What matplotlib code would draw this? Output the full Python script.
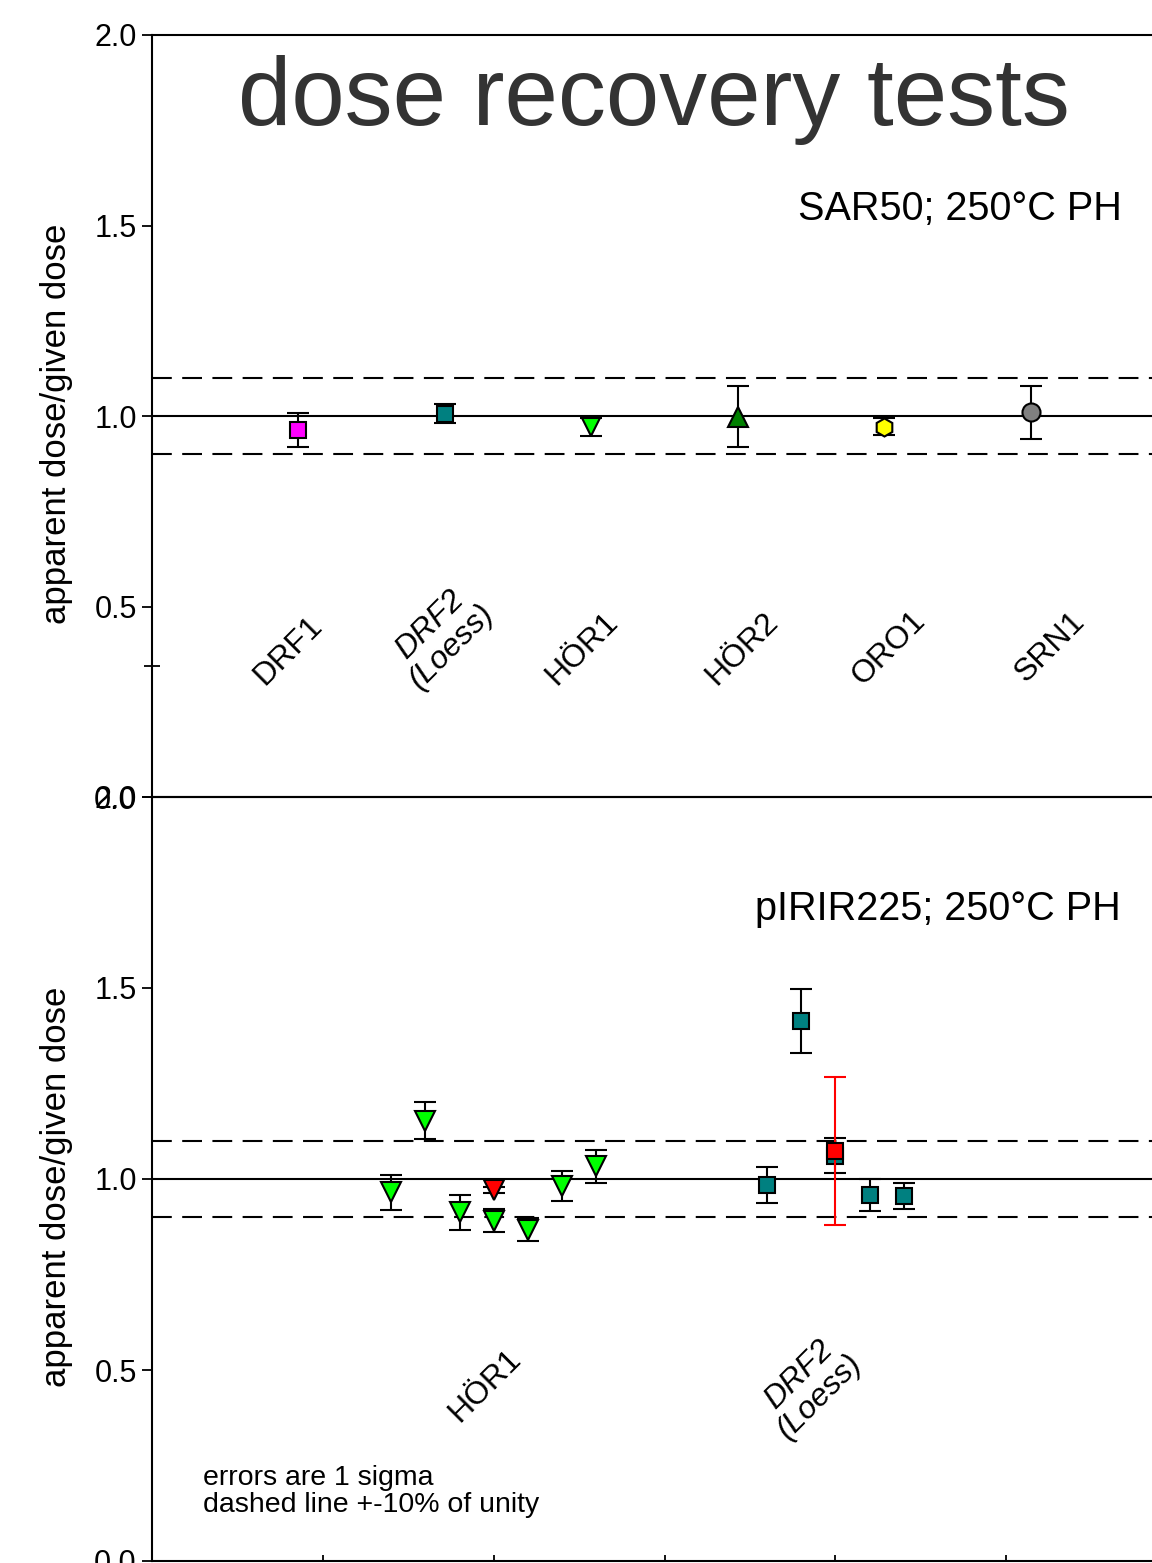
import matplotlib
matplotlib.use('Agg')
import matplotlib.pyplot as plt

plt.rcParams['font.family'] = ['Liberation Sans', 'DejaVu Sans']

# SAR50 panel
top_labels = ['DRF1', 'DRF2\n(Loess)', 'HÖR1', 'HÖR2', 'ORO1', 'SRN1']
top_x = [1, 2, 3, 4, 5, 6]
top_ratio = [0.963, 1.006, 0.971, 0.998, 0.972, 1.010]
top_err = [0.045, 0.025, 0.023, 0.080, 0.022, 0.070]

# pIRIR225 panel
hor1_x = [7, 8, 9, 10, 11, 12, 13]
hor1_ratio = [0.965, 1.153, 0.913, 0.891, 0.867, 0.981, 1.033]
hor1_err = [0.046, 0.049, 0.046, 0.030, 0.030, 0.039, 0.043]
hor1_red_x = [10]
hor1_red_ratio = [0.971]
hor1_red_err = [0.008]

drf2_x = [18, 19, 20, 21, 22]
drf2_ratio = [0.984, 1.414, 1.061, 0.958, 0.956]
drf2_err = [0.047, 0.083, 0.046, 0.042, 0.034]
drf2_red_x = [20]
drf2_red_ratio = [1.074]
drf2_red_err = [0.194]

bottom_labels = ['HÖR1', 'DRF2\n(Loess)']

# styles
top_markers = ['s', 's', 'v', '^', 'h', 'o']
top_colors = ['#ff00ff', '#008080', '#00ff00', '#008000', '#ffff00', '#808080']
top_sizes = [11.5, 11.5, 13, 14, 13, 13]
top_italic = [False, True, False, False, False, False]
top_label_pos = [(0.93, 0.383), (1.97, 0.423), (2.94, 0.388),
                 (4.03, 0.39), (5.03, 0.39), (6.13, 0.392)]
bottom_label_pos = [(9.74, 0.459), (19.24, 0.459)]
bottom_italic = [False, True]

fig = plt.figure(figsize=(11.52, 15.63), dpi=100)
left, right = 152 / 1152, 1177 / 1152
ax1 = fig.add_axes([left, 1 - 797 / 1563, right - left, (797 - 35) / 1563])
ax2 = fig.add_axes([left, 1 - 1561 / 1563, right - left, (1561 - 797) / 1563])

dash = (0, (9.5, 5))
for ax in (ax1, ax2):
    ax.set_ylim(0, 2)
    ax.set_yticks([0, 0.5, 1.0, 1.5, 2.0])
    ax.set_yticklabels(['0.0', '0.5', '1.0', '1.5', '2.0'])
    ax.tick_params(axis='y', direction='out', length=7, width=1.3, labelsize=22, pad=4)
    ax.axhline(1.0, color='black', lw=1.5, zorder=1)
    ax.axhline(1.1, color='black', lw=1.5, ls=dash, zorder=1)
    ax.axhline(0.9, color='black', lw=1.5, ls=dash, zorder=1)
    for s in ax.spines.values():
        s.set_linewidth(1.5)
    ax.set_ylabel('apparent dose/given dose', fontsize=25)
    ax.yaxis.set_label_coords(-0.077, 0.49)
    ax.patch.set_alpha(0)

# top panel
ax1.set_xlim(0, 7)
ax1.set_xticks([])
ax1.set_yticks([0.345], minor=True)
ax1.tick_params(axis='y', which='minor', direction='inout', length=12, width=1.3)
for i in range(len(top_x)):
    ax1.errorbar(top_x[i], top_ratio[i], yerr=top_err[i], fmt=top_markers[i],
                 ms=top_sizes[i], mfc=top_colors[i], mec='black', mew=1.5,
                 ecolor='black', elinewidth=1.5, capsize=8, capthick=1.5, zorder=3)
    ax1.text(top_label_pos[i][0], top_label_pos[i][1], top_labels[i], rotation=45,
             ha='center', va='center', fontsize=23, linespacing=1.0,
             style='italic' if top_italic[i] else 'normal')
ax1.text(3.43, 1.764, 'dose recovery tests', fontsize=69, color='#333333',
         ha='center', va='baseline')
ax1.text(6.626, 1.514, 'SAR50; 250°C PH', fontsize=28.5, ha='right', va='baseline')

# bottom panel
ax2.set_xlim(0, 30)
ax2.set_xticks(range(0, 31, 5))
ax2.tick_params(axis='x', direction='in', length=4, width=1.3, labelbottom=False)
ax2.errorbar(hor1_x, hor1_ratio, yerr=hor1_err, fmt='v', ms=14, mfc='#00ff00',
             mec='black', mew=1.5, ecolor='black', elinewidth=1.5, capsize=8,
             capthick=1.5, zorder=3)
ax2.errorbar(hor1_red_x, hor1_red_ratio, yerr=hor1_red_err, fmt='v', ms=14,
             mfc='#ff0000', mec='black', mew=1.5, ecolor='black', elinewidth=1.5,
             capsize=8, capthick=1.5, zorder=4)
ax2.errorbar(drf2_x, drf2_ratio, yerr=drf2_err, fmt='s', ms=11.5, mfc='#008080',
             mec='black', mew=1.5, ecolor='black', elinewidth=1.5, capsize=8,
             capthick=1.5, zorder=3)
ax2.errorbar(drf2_red_x, drf2_red_ratio, yerr=drf2_red_err, fmt='s', ms=11.5,
             mfc='#ff0000', mec='black', mew=1.5, ecolor='#ff0000', elinewidth=1.5,
             capsize=8, capthick=1.5, zorder=4)
for i in range(len(bottom_labels)):
    ax2.text(bottom_label_pos[i][0], bottom_label_pos[i][1], bottom_labels[i],
             rotation=45, ha='center', va='center', fontsize=23, linespacing=1.0,
             style='italic' if bottom_italic[i] else 'normal')
ax2.text(28.36, 1.677, 'pIRIR225; 250°C PH', fontsize=28.5, ha='right', va='baseline')
ax2.text(1.49, 0.2, 'errors are 1 sigma', fontsize=20.5, va='baseline')
ax2.text(1.49, 0.129, 'dashed line +-10% of unity', fontsize=20.5, va='baseline')

fig.savefig('out.png', dpi=100)
